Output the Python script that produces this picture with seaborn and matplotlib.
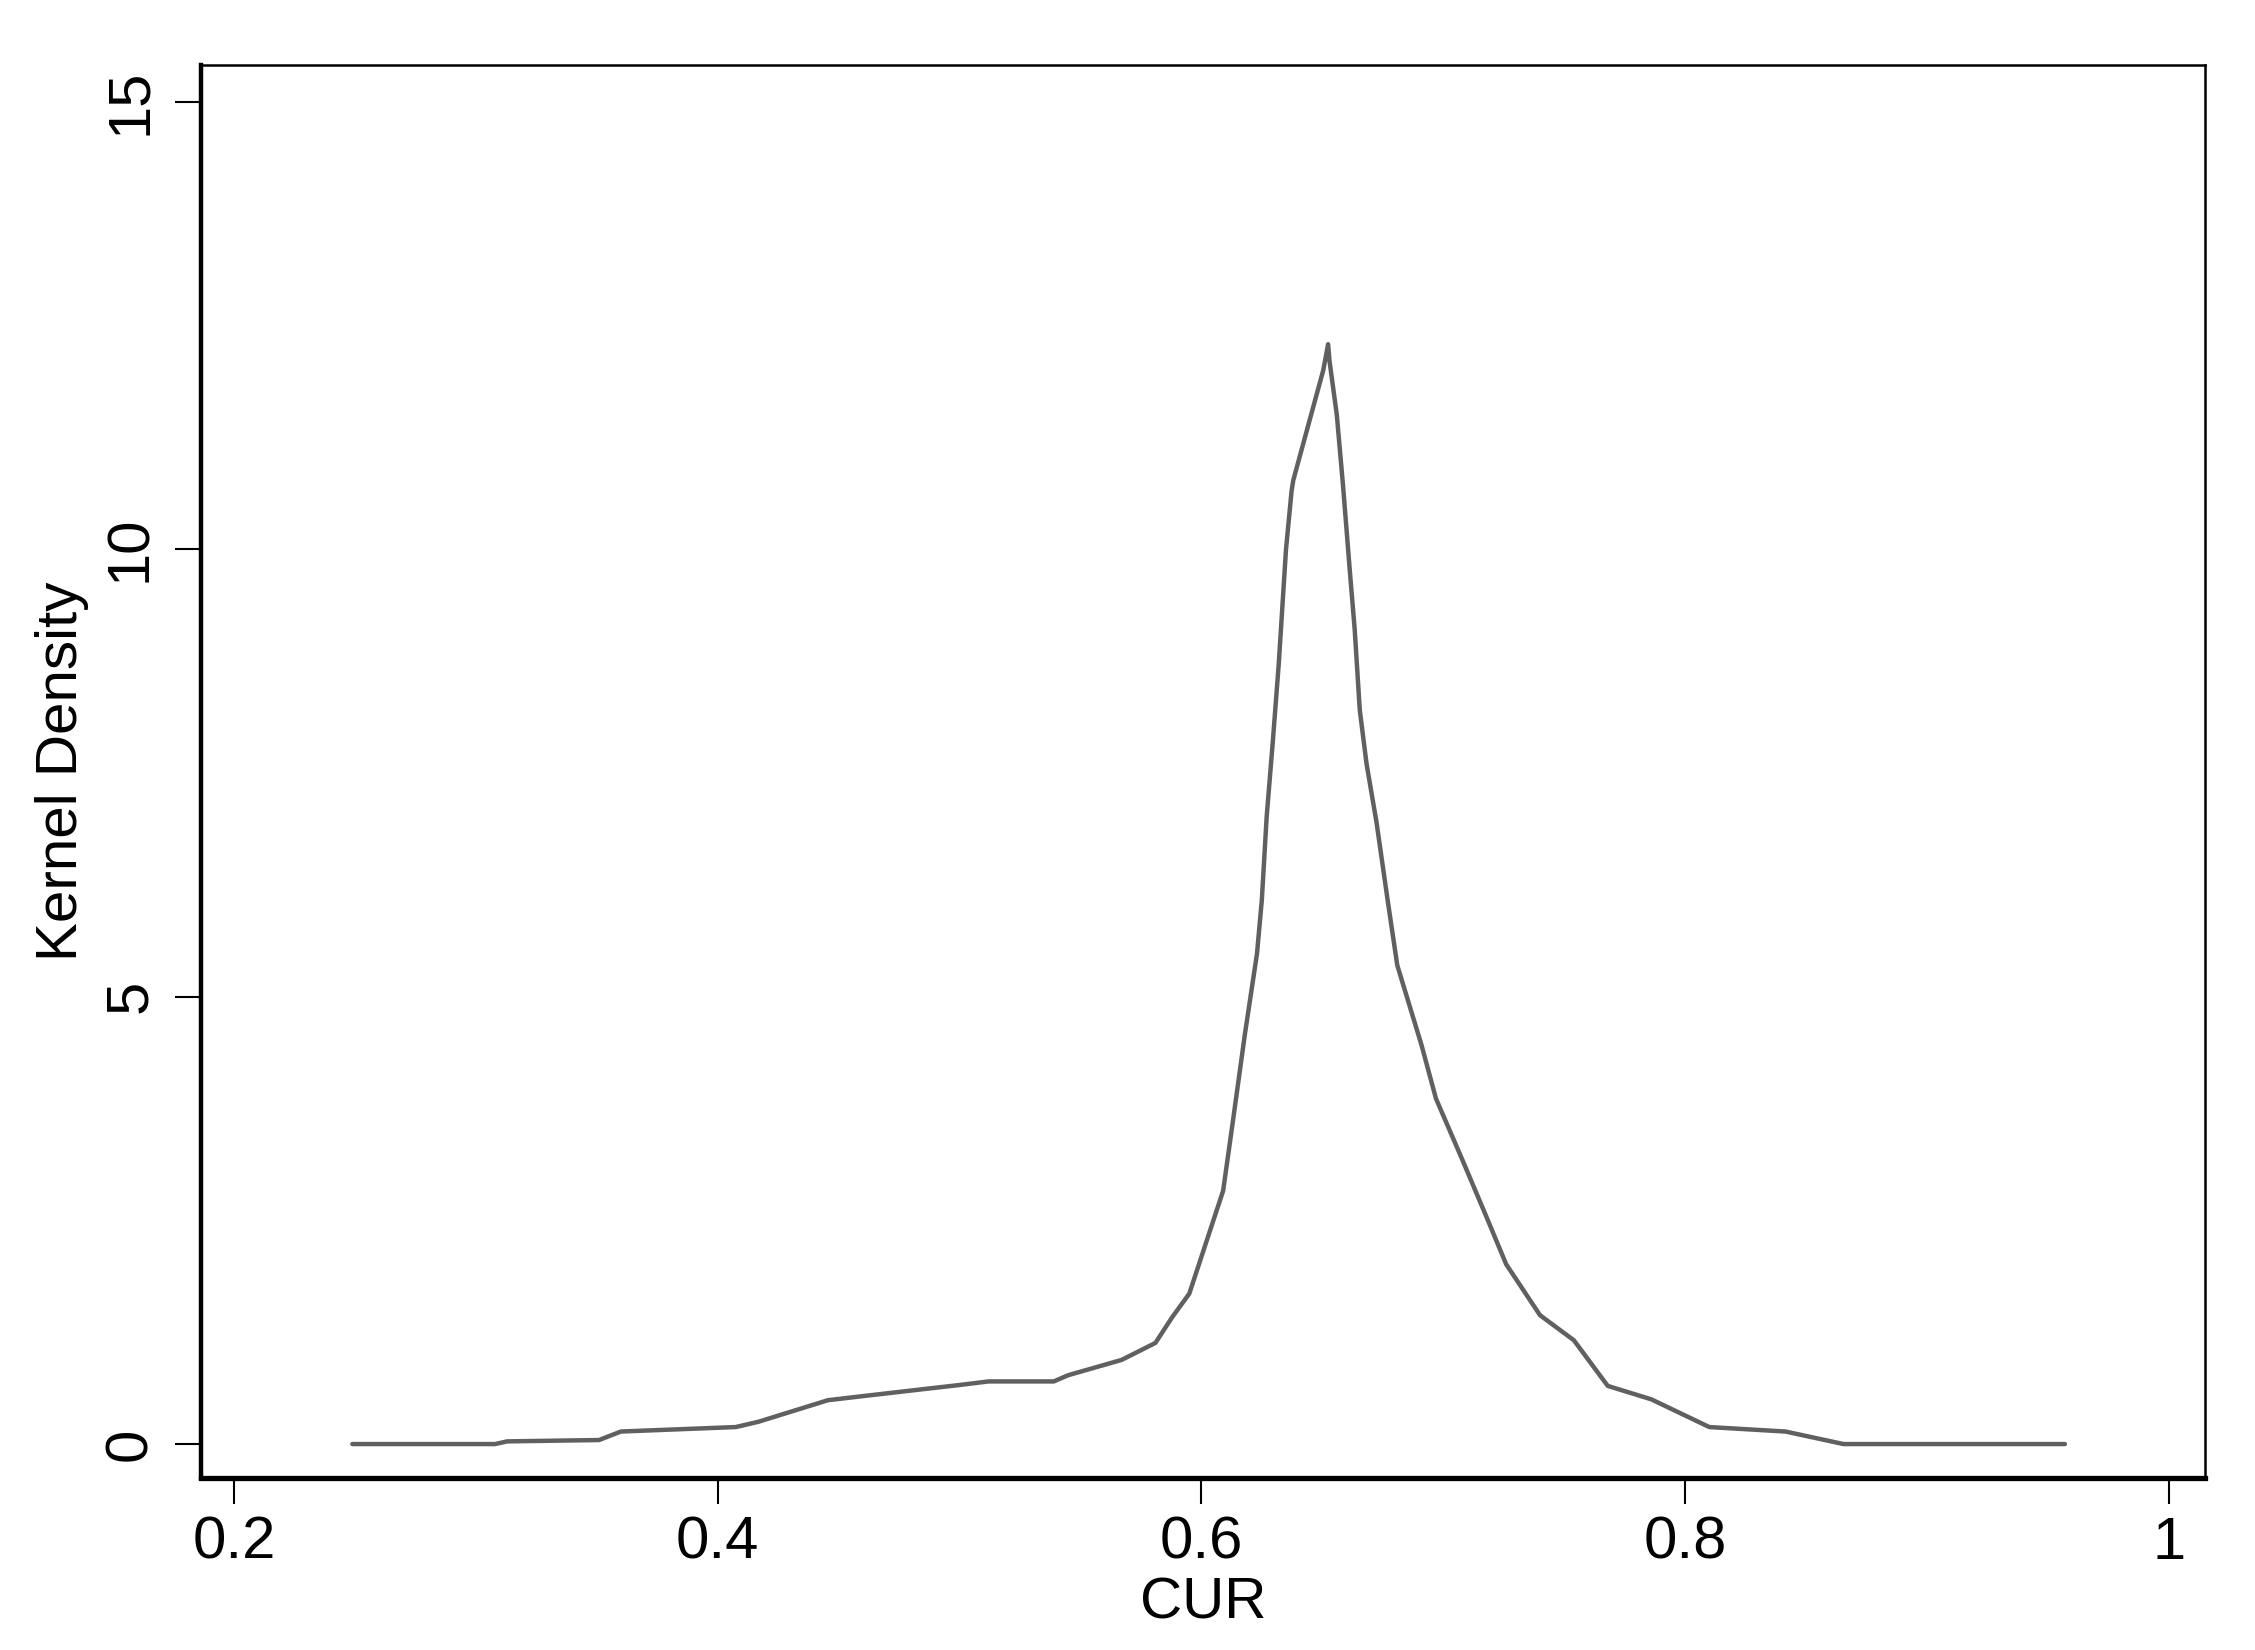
import matplotlib
matplotlib.use("Agg")
import matplotlib.pyplot as plt
import seaborn as sns
import pandas as pd

# kernel density of CUR
cur = [0.249, 0.308, 0.313, 0.351, 0.360, 0.4075, 0.417, 0.4456, 0.4646, 0.500,
       0.512, 0.539, 0.545, 0.567, 0.581, 0.588, 0.595, 0.609, 0.613, 0.618,
       0.623, 0.625, 0.627, 0.6296, 0.632, 0.635, 0.6373, 0.638, 0.6504, 0.6524,
       0.653, 0.656, 0.6586, 0.6614, 0.6634, 0.6655, 0.6683, 0.6724, 0.677, 0.681,
       0.691, 0.697, 0.708, 0.718, 0.726, 0.740, 0.754, 0.768, 0.786, 0.810,
       0.8415, 0.8655, 0.957]
density = [0.0, 0.0, 0.03, 0.045, 0.14, 0.19, 0.25, 0.49, 0.55, 0.66,
           0.70, 0.70, 0.77, 0.94, 1.13, 1.42, 1.68, 2.83, 3.60, 4.58,
           5.48, 6.08, 7.01, 7.87, 8.72, 10.0, 10.65, 10.77, 12.0, 12.29,
           12.1, 11.5, 10.7, 9.75, 9.1, 8.2, 7.6, 6.95, 6.08, 5.35,
           4.46, 3.86, 3.17, 2.53, 2.01, 1.44, 1.16, 0.65, 0.50, 0.19,
           0.14, 0.0, 0.0]

x_ticks = [0.2, 0.4, 0.6, 0.8, 1.0]
x_labels = ["0.2", "0.4", "0.6", "0.8", "1"]
y_ticks = [0, 5, 10, 15]
y_labels = ["0", "5", "10", "15"]

df = pd.DataFrame({"CUR": cur, "Kernel Density": density})

sns.set_theme(style="white")
plt.rcParams['font.family'] = ['Liberation Sans', 'DejaVu Sans']
plt.rcParams['text.color'] = 'black'
plt.rcParams['axes.labelcolor'] = 'black'
plt.rcParams['xtick.color'] = 'black'
plt.rcParams['ytick.color'] = 'black'

fig = plt.figure(figsize=(22.55, 16.5), dpi=100)
ax = fig.add_axes([0.0891, 0.1042, 0.8887, 0.8564])

sns.lineplot(data=df, x="CUR", y="Kernel Density", ax=ax, estimator=None,
             sort=False, color="#606060", linewidth=3.2)

ax.set_xlim(0.1864, 1.0149)
ax.set_ylim(-0.38, 15.41)

ax.set_xticks(x_ticks)
ax.set_xticklabels(x_labels, fontsize=43)
ax.set_yticks(y_ticks)
ax.set_yticklabels(y_labels, fontsize=43, rotation=90, va="center")

ax.tick_params(axis="both", direction="out", length=19, width=1.5, color="black")
ax.tick_params(axis="x", pad=8, bottom=True)
ax.tick_params(axis="y", pad=12, left=True)

ax.set_xlabel("CUR", fontsize=42, labelpad=4)
ax.set_ylabel("Kernel Density", fontsize=42, labelpad=10)

for side in ["top", "right"]:
    ax.spines[side].set_linewidth(1.8)
    ax.spines[side].set_color("black")
ax.spines["left"].set_linewidth(3.2)
ax.spines["left"].set_color("black")
ax.spines["bottom"].set_linewidth(3.8)
ax.spines["bottom"].set_color("black")

fig.savefig("out.png", dpi=100, facecolor="white")
